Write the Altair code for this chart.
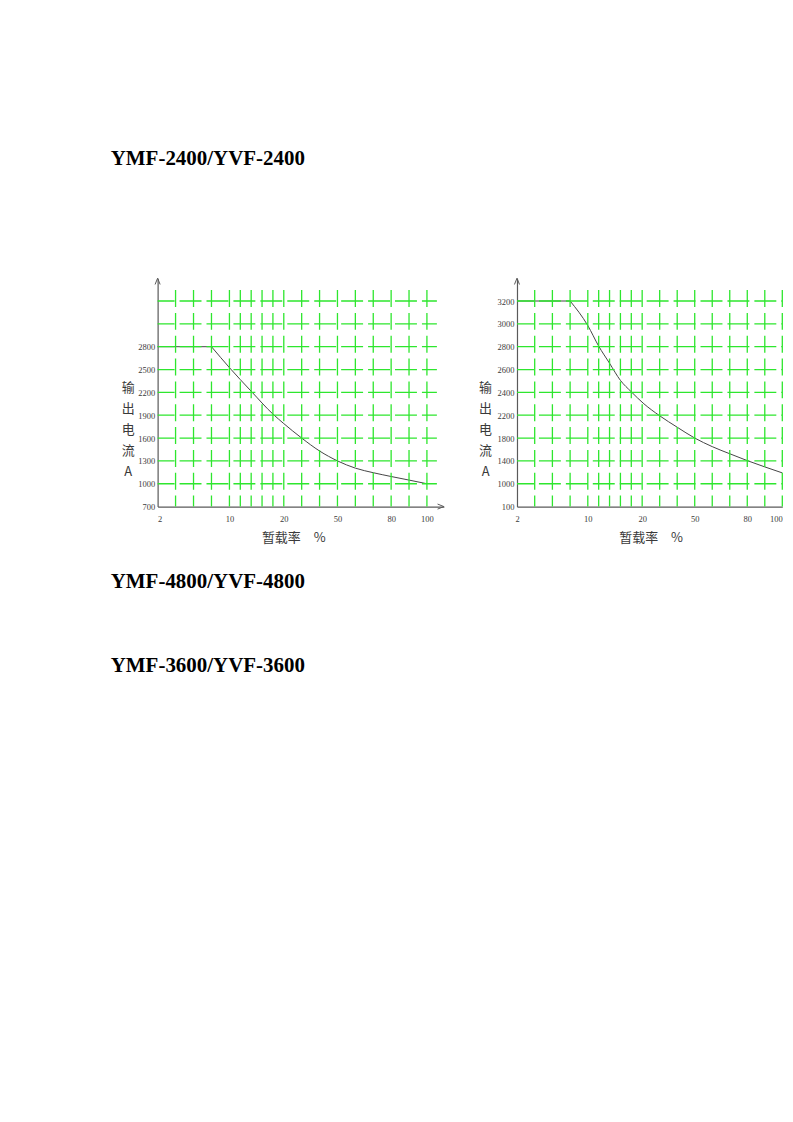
import altair as alt
import pandas as pd

# ---------------- data ----------------
headers = ["YMF-2400/YVF-2400", "YMF-4800/YVF-4800", "YMF-3600/YVF-3600"]

duty_left = [2, 8, 10, 14, 18, 20, 30, 40, 50, 60, 70, 80, 90, 100]
current_left = [2800, 2800, 2525, 2215, 1915, 1790, 1600, 1430, 1300, 1205, 1145, 1095, 1048, 1000]

duty_right = [2, 8, 10, 12, 14, 16, 18, 21, 30, 40, 50, 60, 70, 80, 90, 100]
current_right = [3200, 3200, 2985, 2805, 2655, 2505, 2405, 2300, 2190, 1990, 1800, 1650, 1525, 1405, 1295, 1190]

x_ticks = [2, 10, 20, 50, 80, 100]
x_grid = [4, 6, 8, 10, 12, 14, 16, 18, 20, 30, 40, 50, 60, 70, 80, 90, 100]

y_ticks_left = [700, 1000, 1300, 1600, 1900, 2200, 2500, 2800]
y_grid_left = [1000, 1300, 1600, 1900, 2200, 2500, 2800, 3100, 3400]

y_ticks_right = [100, 1000, 1400, 1800, 2200, 2400, 2600, 2800, 3000, 3200]
y_grid_right = [1000, 1400, 1800, 2200, 2400, 2600, 2800, 3000, 3200]

x_title = "暂载率　%"
y_title = ["输", "出", "电", "流", "A"]

# ---------------- styling / layout ----------------
W_LEFT = 287
W_RIGHT = 266
H = 229
STEP = H / 10
GREEN = "#2ee62e"
AXIS_GRAY = "#5a5a5a"
TEXT_GRAY = "#3a3a3a"
CJK = "Noto Sans CJK SC"
SERIF = "Liberation Serif"

# x scale: log-paper like piecewise mapping
xscale_left = alt.Scale(domain=[2, 10, 20, 100, 109.5], range=[0, 72, 126.5, 270, 287],
                        nice=False, zero=False)
xscale_right = alt.Scale(domain=[2, 10, 20, 100], range=[0, 71, 125.5, 266],
                         nice=False, zero=False)

yscale_left = alt.Scale(domain=[700, 3700], nice=False, zero=False)
y_dom_right = [100, 1000, 1400, 1800, 2200, 2400, 2600, 2800, 3000, 3200, 3400]
y_rng_right = [H - i * STEP for i in range(11)]
yscale_right = alt.Scale(domain=y_dom_right, range=y_rng_right, nice=False, zero=False)


def x_axis(title_x, last_right=False):
    extra = {}
    if last_right:
        extra["labelAlign"] = alt.ExprRef(expr="datum.value == 100 ? 'right' : 'center'")
    return alt.Axis(
        values=x_ticks, title=x_title, grid=False, ticks=False, tickSize=0, format="d",
        labelPadding=8, labelFont=SERIF, labelFontSize=8.5, labelColor=TEXT_GRAY,
        domainColor=AXIS_GRAY, domainWidth=1.2,
        titleFont=CJK, titleFontSize=13, titleFontWeight="normal", titleColor=TEXT_GRAY,
        titleX=title_x, titleY=31, titleAlign="center", titleBaseline="middle",
        labelOverlap=False, **extra,
    )


def y_axis(vals, tx):
    return alt.Axis(
        values=vals, title=y_title, grid=False, ticks=False, tickSize=0, format="d",
        labelPadding=3, labelFont=SERIF, labelFontSize=8.5, labelColor=TEXT_GRAY,
        domainColor=AXIS_GRAY, domainWidth=1.2,
        titleFont=CJK, titleFontSize=13, titleFontWeight="normal", titleColor=TEXT_GRAY,
        titleAngle=0, titleLineHeight=21, titleX=tx, titleY=110,
        titleAlign="center", titleBaseline="middle", labelOverlap=False,
    )


def panel(duty, current, xscale, yscale, y_ticks, y_grid, width, title_x, xtitle_x,
          hgrid_len, right_arrow_x=None, last_right=False, extra=None):
    xa = x_axis(xtitle_x, last_right)
    ya = y_axis(y_ticks, title_x)
    flat_df = pd.DataFrame({"duty": duty[:2], "current": current[:2]})
    curve_df = pd.DataFrame({"duty": duty[1:], "current": current[1:]})
    flat = alt.Chart(flat_df).mark_line(color="#454545", strokeWidth=1).encode(
        x=alt.X("duty:Q", scale=xscale, axis=xa),
        y=alt.Y("current:Q", scale=yscale, axis=ya),
    )
    curve = alt.Chart(curve_df).mark_line(
        color="#454545", strokeWidth=1, interpolate="monotone"
    ).encode(
        x=alt.X("duty:Q", scale=xscale, axis=xa),
        y=alt.Y("current:Q", scale=yscale, axis=ya),
    )
    hgrid = alt.Chart(pd.DataFrame({"current": y_grid})).mark_rule(
        color=GREEN, strokeWidth=1.3, strokeDash=[22, 5], strokeDashOffset=5
    ).encode(
        y=alt.Y("current:Q", scale=yscale, axis=ya),
        x=alt.value(0), x2=alt.value(hgrid_len),
    )
    vgrid = alt.Chart(pd.DataFrame({"duty": x_grid})).mark_rule(
        color=GREEN, strokeWidth=1.3, strokeDash=[17, STEP - 17], strokeDashOffset=6
    ).encode(
        x=alt.X("duty:Q", scale=xscale, axis=xa),
        y=alt.value(H), y2=alt.value(7),
    )
    one = pd.DataFrame({"a": [0]})
    arrow_up = alt.Chart(one).mark_point(
        shape="M-0.8,2L0,0L0.8,2", size=40, filled=False, stroke=AXIS_GRAY, strokeWidth=1, opacity=1
    ).encode(x=alt.value(0), y=alt.value(0))
    layers = [curve, flat, hgrid, vgrid, arrow_up]
    if right_arrow_x is not None:
        arrow_right = alt.Chart(one).mark_point(
            shape="M-2,-0.8L0,0L-2,0.8", size=40, filled=False, stroke=AXIS_GRAY, strokeWidth=1, opacity=1
        ).encode(x=alt.value(right_arrow_x), y=alt.value(H))
        layers.append(arrow_right)
    if extra:
        layers += extra
    return alt.layer(*layers).properties(width=width, height=H)


def header(text, y):
    return alt.Chart(pd.DataFrame({"t": [text]})).mark_text(
        font=SERIF, fontSize=21, fontWeight="bold", color="#000000",
        align="left", baseline="alphabetic"
    ).encode(text="t:N", x=alt.value(-47), y=alt.value(y))


left = panel(
    duty_left, current_left, xscale_left, yscale_left, y_ticks_left, y_grid_left,
    W_LEFT, -30, 136, 280, right_arrow_x=287,
    extra=[header(headers[0], -113), header(headers[1], 311), header(headers[2], 395)],
)
right = panel(
    duty_right, current_right, xscale_right, yscale_right, y_ticks_right, y_grid_right,
    W_RIGHT, -32, 134, 266, last_right=True,
)

chart = alt.hconcat(left, right, spacing=73.3, bounds="flush").properties(
    padding={"left": 103, "top": 140, "right": 0, "bottom": 5}
).configure_view(stroke=None)

chart.save("out.html", embed_options={"renderer": "svg", "actions": False})
